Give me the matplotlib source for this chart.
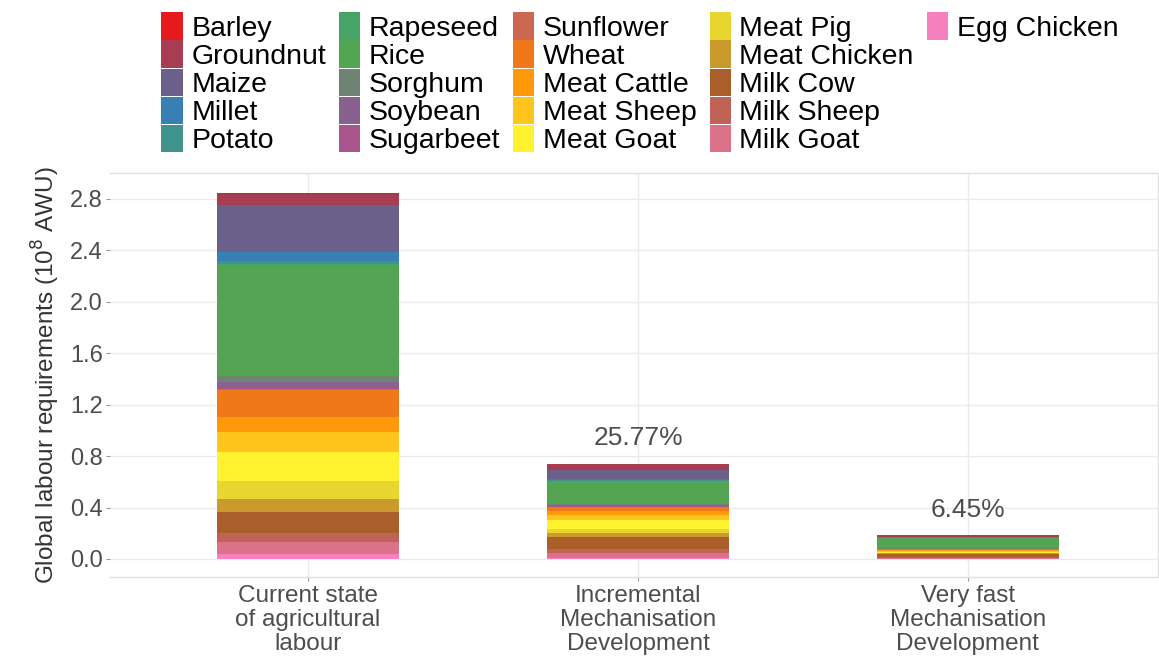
import numpy as np
import matplotlib
matplotlib.use("Agg")
import matplotlib.pyplot as plt
from matplotlib.colors import to_rgb
from matplotlib.patches import Patch

plt.rcParams["font.family"] = ["Liberation Sans", "DejaVu Sans"]

# categories (legend order = top of stack first)
products = ["Barley", "Groundnut", "Maize", "Millet", "Potato",
            "Rapeseed", "Rice", "Sorghum", "Soybean", "Sugarbeet",
            "Sunflower", "Wheat", "Meat Cattle", "Meat Sheep", "Meat Goat",
            "Meat Pig", "Meat Chicken", "Milk Cow", "Milk Sheep", "Milk Goat",
            "Egg Chicken"]

scenarios = ["Current state\nof agricultural\nlabour",
             "Incremental\nMechanisation\nDevelopment",
             "Very fast\nMechanisation\nDevelopment"]

# labour requirement per product, 10^8 AWU
current = [0.012, 0.080, 0.365, 0.070, 0.025,
           0.020, 0.850, 0.045, 0.050, 0.008,
           0.006, 0.213, 0.117, 0.155, 0.220,
           0.140, 0.105, 0.165, 0.065, 0.100,
           0.035]
incremental = [0.004, 0.046, 0.065, 0.008, 0.007,
               0.006, 0.180, 0.008, 0.007, 0.002,
               0.002, 0.035, 0.030, 0.035, 0.070,
               0.030, 0.035, 0.095, 0.025, 0.045,
               0.005]
very_fast = [0.001, 0.010, 0.004, 0.001, 0.001,
             0.002, 0.078, 0.006, 0.004, 0.001,
             0.001, 0.008, 0.006, 0.006, 0.006,
             0.005, 0.006, 0.020, 0.008, 0.008,
             0.002]

share_labels = ["", "25.77%", "6.45%"]

# Set1-like ramp over 21 products
base = ["#E41A1C", "#377EB8", "#4DAF4A", "#984EA3",
        "#FF7F00", "#FFFF33", "#A65628", "#F781BF"]
base_rgb = np.array([to_rgb(c) for c in base])
pos = np.linspace(0, len(base) - 1, len(products))
colors = []
for p in pos:
    i = min(int(np.floor(p)), len(base) - 2)
    f = p - i
    colors.append(tuple(base_rgb[i] * (1 - f) + base_rgb[i + 1] * f))

data = np.array([current, incremental, very_fast])  # scenario x product
x = np.arange(1, len(scenarios) + 1)

fig = plt.figure(figsize=(11.59, 6.63), dpi=100)
ax = fig.add_axes([110 / 1159, 86 / 663, 1048 / 1159, 404 / 663])

# stack from the bottom: last product first
bottom = np.zeros(len(scenarios))
for k in range(len(products) - 1, -1, -1):
    ax.bar(x, data[:, k], width=0.55, bottom=bottom, color=colors[k],
           label=products[k], zorder=3, linewidth=0)
    bottom += data[:, k]

totals = data.sum(axis=1)
for xi, t, lab in zip(x, totals, share_labels):
    if lab:
        ax.text(xi, t + 0.2, lab, ha="center", va="center",
                fontsize=19, color="#4D4D4D")

ax.set_xlim(0.4, 3.576)
ax.set_ylim(-0.14, 3.0)
ax.set_yticks(np.arange(0, 2.81, 0.4))
ax.set_yticklabels([f"{v:.1f}" for v in np.arange(0, 2.81, 0.4)])
ax.set_xticks(x)
ax.set_xticklabels(scenarios, fontsize=17.5, color="#4D4D4D", linespacing=1.12)
ax.tick_params(axis="y", labelsize=17, labelcolor="#4D4D4D", length=3,
               color="#999999", pad=2)
ax.tick_params(axis="x", length=3, color="#999999", pad=3)
ax.grid(True, color="#EBEBEB", linewidth=1.0, zorder=0)
for s in ax.spines.values():
    s.set_color("#E0E0E0")
    s.set_linewidth(1.0)
ax.spines["left"].set_visible(False)
ax.set_ylabel("Global labour requirements (10$^{8}$ AWU)", fontsize=17.5,
              color="#333333", labelpad=6)

# legend: 5 rows filled column by column (pad the last column)
handles, labels = ax.get_legend_handles_labels()
order = [labels.index(p) for p in products]
leg_h = [handles[i] for i in order]
leg_l = list(products)
for _ in range(25 - len(products)):
    leg_h.append(Patch(facecolor="none", edgecolor="none"))
    leg_l.append("")
leg = fig.legend(leg_h, leg_l, loc="upper center",
                 bbox_to_anchor=(0.552, 1.016), ncol=5, frameon=False,
                 fontsize=20.5, handlelength=0.75, handleheight=1.1,
                 labelspacing=-0.04, handletextpad=0.3, columnspacing=0.45,
                 borderpad=0.3)

fig.savefig("out.png", dpi=100)
